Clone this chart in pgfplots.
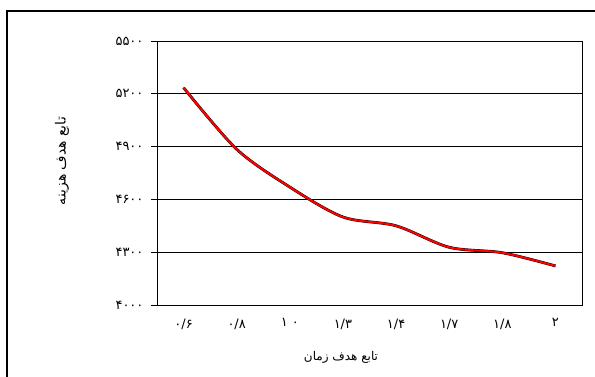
\documentclass[border=0pt]{standalone}
\usepackage{pgfplots}
\pgfplotsset{compat=1.18}
\usepackage{fontspec}
\setmainfont{Liberation Serif}
\TeXXeTstate=1
\newfontfamily\arabicfont[Script=Arabic]{DejaVu Sans}
\begin{document}
\begin{tikzpicture}[x=1pt,y=1pt]
\useasboundingbox (0,0) rectangle (595,376);
\draw[line width=1.2pt] (7,-5) -- (7,365) -- (600,365);
\begin{axis}[
  at={(157pt,71pt)}, anchor=south west,
  scale only axis, width=425pt, height=264pt,
  xmin=-0.5, xmax=7.5, ymin=4000, ymax=5500,
  xtick={0,1,2,3,4,5,6,7},
  xticklabels={{۰/۶},{۰/۸},{۱\kern4pt۰},{۱/۳},{۱/۴},{۱/۷},{۱/۸},{۲}},
  ytick={4000,4300,4600,4900,5200,5500},
  yticklabels={{۴۰۰۰},{۴۳۰۰},{۴۶۰۰},{۴۹۰۰},{۵۲۰۰},{۵۵۰۰}},
  xtick style={draw=none},
  ytick pos=left, tick align=outside, major tick length=6pt,
  ytick style={black, line width=0.8pt},
  ymajorgrids, major grid style={black, line width=0.9pt},
  axis line style={black, line width=0.9pt},
  ticklabel style={font=\arabicfont\fontsize{13}{15}\selectfont},
  xticklabel style={yshift=-4pt},
  yticklabel style={xshift=-4pt},
  xlabel={\arabicfont\beginR تابع هدف زمان\endR},
  ylabel={\arabicfont\beginR تابع هدف هزینه\endR},
  xlabel style={font=\fontsize{12}{14}\selectfont, at={(axis description cs:0.433,-0.20)}, anchor=center},
  ylabel style={font=\fontsize{14}{16}\selectfont, at={(axis description cs:-0.2235,0.545)}, anchor=center, rotate=0},
]
\addplot[black, line width=2.8pt, smooth] coordinates {
(0,5235) (1,4885) (2,4670) (3,4500) (4,4450) (5,4328) (6,4297) (7,4222)};
\addplot[red, line width=2pt, smooth] coordinates {
(0,5235) (1,4885) (2,4670) (3,4500) (4,4450) (5,4328) (6,4297) (7,4222)};
\end{axis}
\end{tikzpicture}
\end{document}
